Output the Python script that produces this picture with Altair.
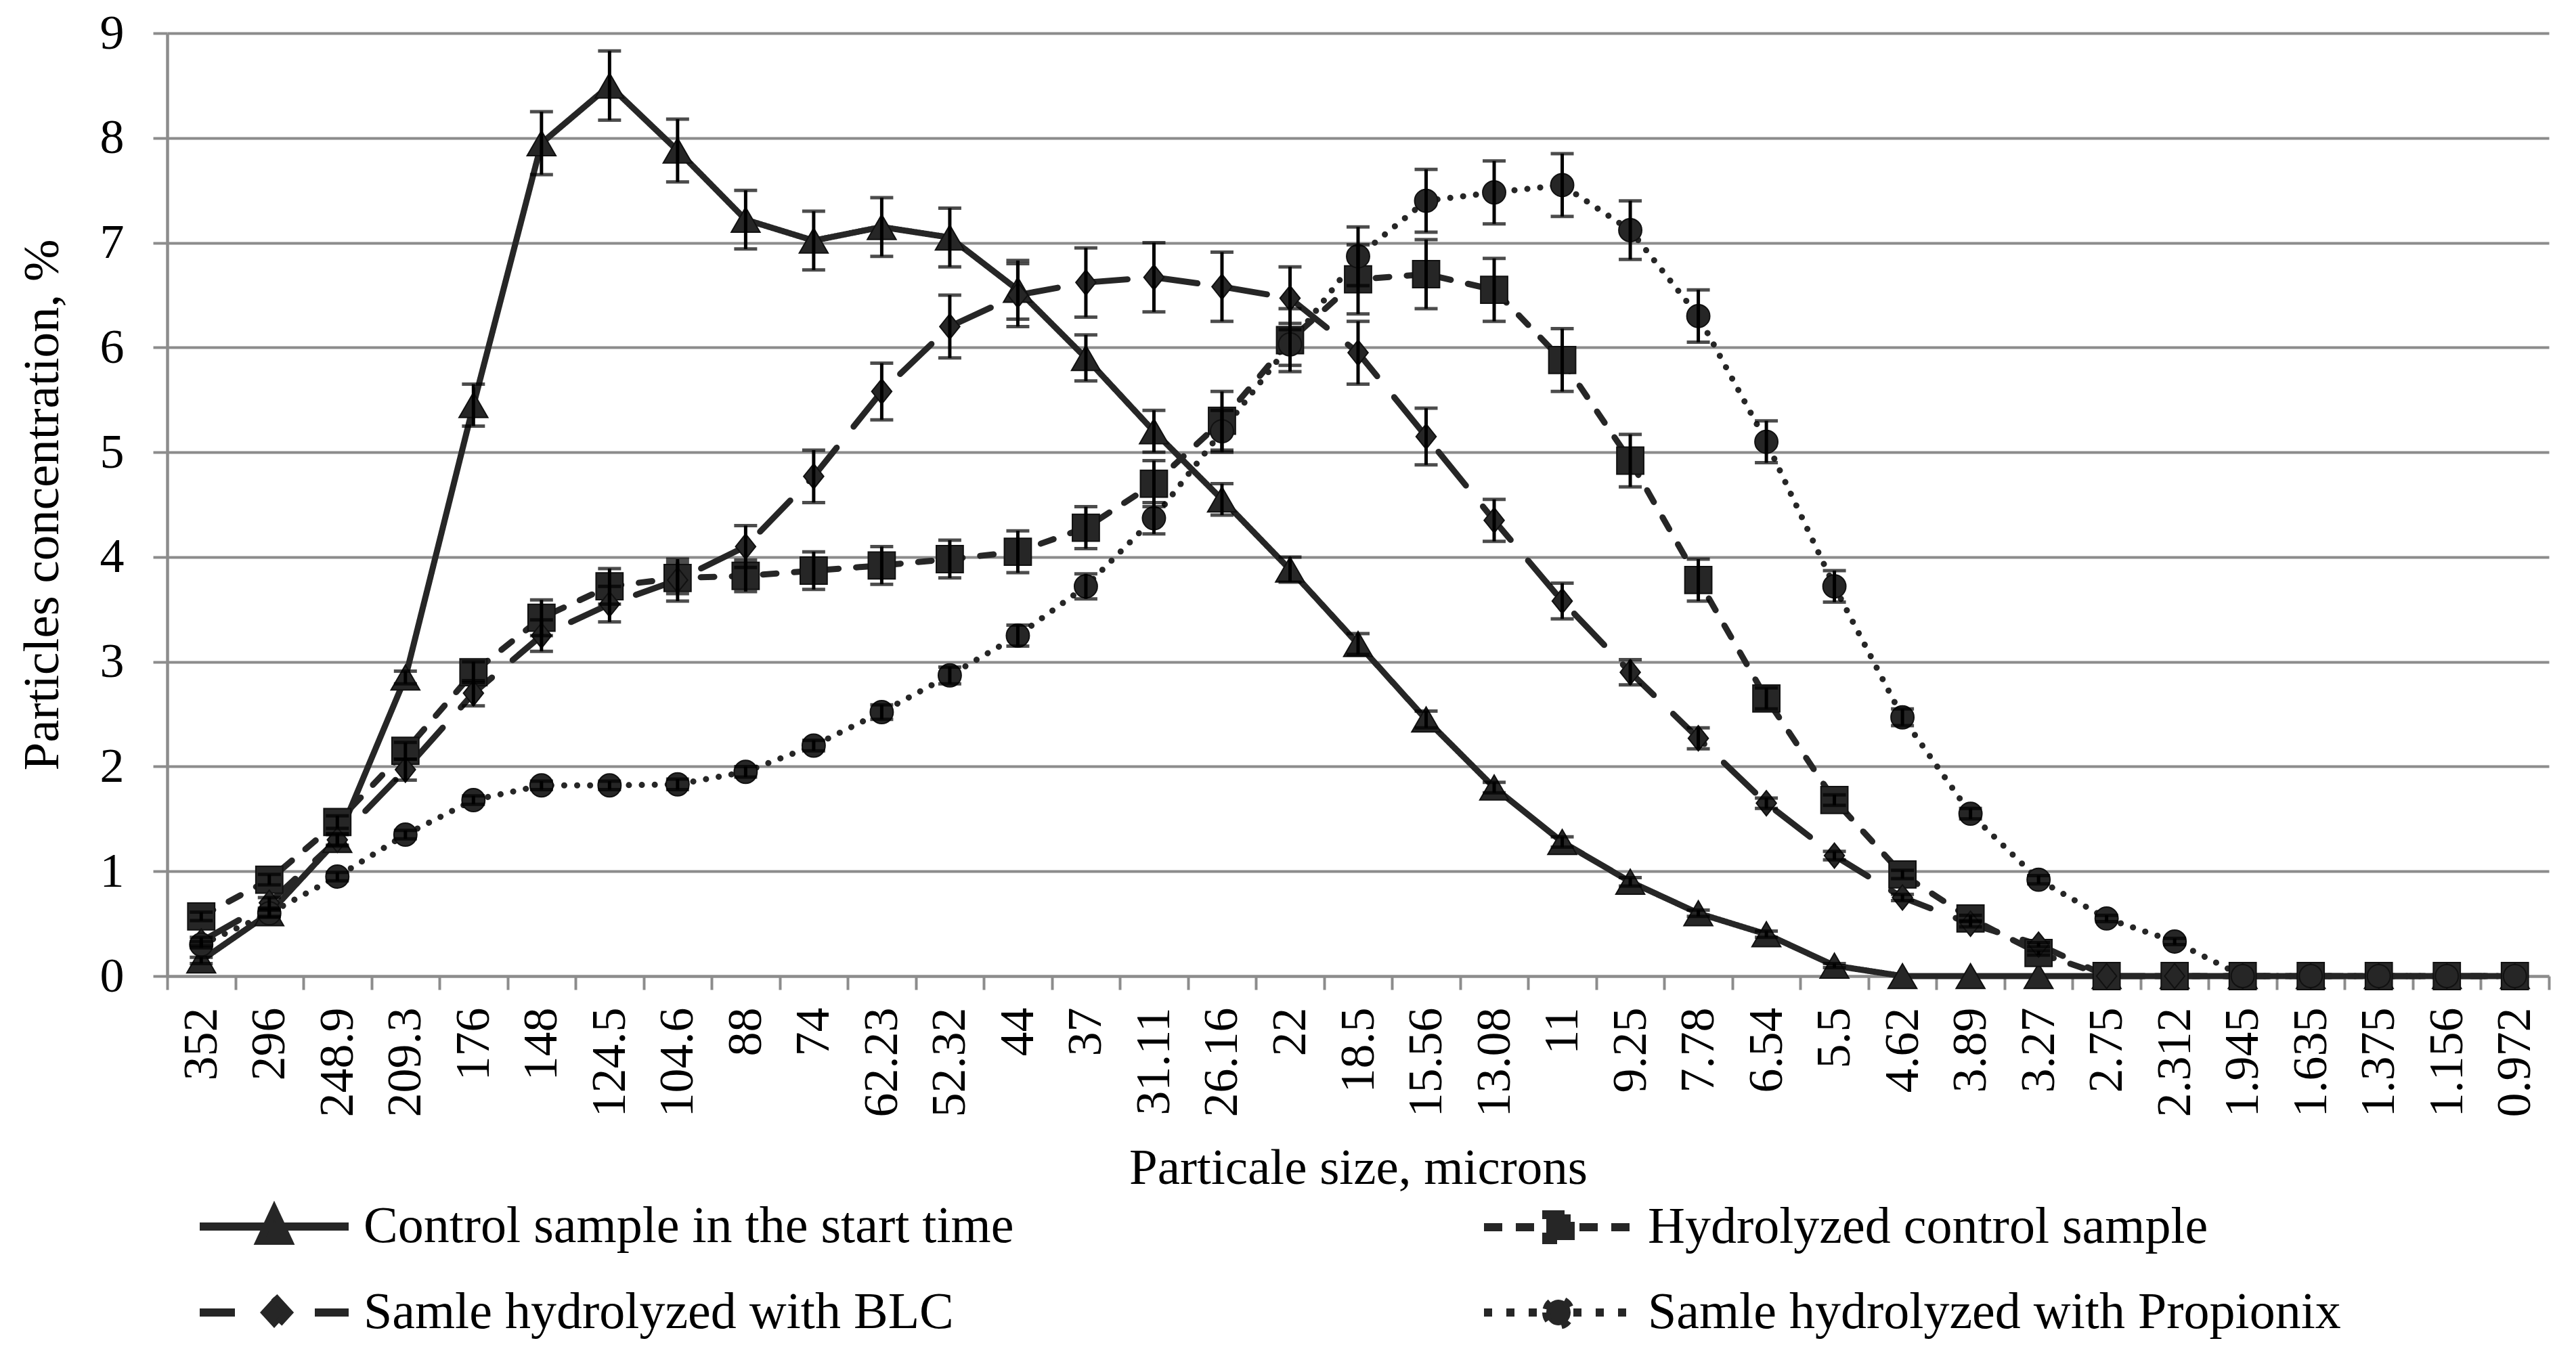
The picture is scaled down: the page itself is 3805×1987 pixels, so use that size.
import altair as alt
import pandas as pd

# ---------------- data ----------------
sizes = ["352", "296", "248.9", "209.3", "176", "148", "124.5", "104.6", "88", "74",
         "62.23", "52.32", "44", "37", "31.11", "26.16", "22", "18.5", "15.56", "13.08",
         "11", "9.25", "7.78", "6.54", "5.5", "4.62", "3.89", "3.27", "2.75", "2.312",
         "1.945", "1.635", "1.375", "1.156", "0.972"]

series_names = ["Control sample in the start time",
                "Hydrolyzed control sample",
                "Samle hydrolyzed with BLC",
                "Samle hydrolyzed with Propionix"]

control = [0.15, 0.6, 1.3, 2.85, 5.45, 7.95, 8.5, 7.88, 7.22, 7.02,
           7.15, 7.05, 6.55, 5.9, 5.2, 4.55, 3.88, 3.17, 2.45, 1.8,
           1.28, 0.9, 0.6, 0.4, 0.1, 0, 0, 0, 0, 0,
           0, 0, 0, 0, 0]
control_err = [0.03, 0.04, 0.05, 0.06, 0.2, 0.3, 0.33, 0.3, 0.28, 0.28,
               0.28, 0.28, 0.28, 0.22, 0.2, 0.15, 0.12, 0.1, 0.08, 0.05,
               0.05, 0.04, 0.03, 0.03, 0.02, 0, 0, 0, 0, 0,
               0, 0, 0, 0, 0]

hydrolyzed = [0.57, 0.92, 1.47, 2.15, 2.9, 3.42, 3.72, 3.8, 3.82, 3.87,
              3.92, 3.98, 4.05, 4.28, 4.7, 5.3, 6.07, 6.65, 6.7, 6.55,
              5.88, 4.92, 3.78, 2.65, 1.68, 0.97, 0.55, 0.22, 0, 0,
              0, 0, 0, 0, 0]
hydrolyzed_err = [0.04, 0.05, 0.06, 0.08, 0.1, 0.17, 0.17, 0.15, 0.15, 0.18,
                  0.18, 0.18, 0.2, 0.2, 0.22, 0.28, 0.3, 0.33, 0.33, 0.3,
                  0.3, 0.25, 0.2, 0.1, 0.05, 0.04, 0.03, 0.02, 0, 0,
                  0, 0, 0, 0, 0]

blc = [0.33, 0.7, 1.3, 1.97, 2.7, 3.25, 3.55, 3.78, 4.1, 4.77,
       5.58, 6.2, 6.5, 6.62, 6.67, 6.58, 6.47, 5.95, 5.15, 4.35,
       3.58, 2.9, 2.27, 1.65, 1.15, 0.75, 0.5, 0.3, 0, 0,
       0, 0, 0, 0, 0]
blc_err = [0.04, 0.05, 0.06, 0.1, 0.12, 0.15, 0.17, 0.2, 0.2, 0.25,
           0.27, 0.3, 0.3, 0.33, 0.33, 0.33, 0.3, 0.3, 0.27, 0.2,
           0.17, 0.12, 0.1, 0.05, 0.04, 0.03, 0.03, 0.02, 0, 0,
           0, 0, 0, 0, 0]

propionix = [0.3, 0.6, 0.95, 1.35, 1.68, 1.82, 1.82, 1.83, 1.95, 2.2,
             2.52, 2.87, 3.25, 3.72, 4.37, 5.2, 6.03, 6.87, 7.4, 7.48,
             7.55, 7.12, 6.3, 5.1, 3.72, 2.47, 1.55, 0.92, 0.55, 0.33,
             0, 0, 0, 0, 0]
propionix_err = [0.03, 0.03, 0.04, 0.04, 0.04, 0.04, 0.04, 0.05, 0.05, 0.05,
                 0.07, 0.08, 0.1, 0.12, 0.15, 0.2, 0.2, 0.28, 0.3, 0.3,
                 0.3, 0.28, 0.25, 0.2, 0.15, 0.08, 0.05, 0.04, 0.03, 0.03,
                 0, 0, 0, 0, 0]

rows = []
for name, vals, errs in zip(series_names,
                            [control, hydrolyzed, blc, propionix],
                            [control_err, hydrolyzed_err, blc_err, propionix_err]):
    for i, (s, v, e) in enumerate(zip(sizes, vals, errs)):
        rows.append({"size": s, "value": v, "err": e,
                     "lo": v - e, "hi": v + e, "series": name, "idx": i})
df = pd.DataFrame(rows)

# ---------------- style ----------------
FONT = "Liberation Serif"
DARK = "#262626"
GRAY = "#8c8c8c"
W, H = 3518, 1393

DIAMOND = "M0,-1L0.8,0L0,1L-0.8,0Z"
LEG_PATHS = [
    "M-1,0L10,0M4.5,-1.2L5.55,1.05L3.45,1.05Z",
    "M-1,0L10,0M3.6,-0.95L5.4,-0.95L5.4,0.95L3.6,0.95Z",
    "M-1,0L10,0M4.5,-1.15L5.55,0L4.5,1.15L3.45,0Z",
    "M3.6,0A0.9,0.95 0 1,0 5.4,0A0.9,0.95 0 1,0 3.6,0ZM-1,0L10,0",
]

xscale = alt.Scale(type="band", domain=sizes, paddingInner=0, paddingOuter=0)
xaxis = alt.Axis(title="Particale size, microns", labelAngle=270, labelAlign="right",
                 labelBaseline="middle", labelFont=FONT, labelFontSize=72,
                 labelColor="black", labelPadding=26, labelOverlap=False,
                 tickSize=20, tickWidth=4, tickColor=GRAY, tickBand="extent",
                 domainColor=GRAY, domainWidth=4, grid=False,
                 titleFont=FONT, titleFontSize=75, titleFontWeight="normal",
                 titleColor="black", titleY=306, titleBaseline="alphabetic")
yscale = alt.Scale(domain=[0, 9], nice=False)
yaxis = alt.Axis(title="Particles concentration, %", values=list(range(10)),
                 grid=True, gridColor=GRAY, gridWidth=4,
                 tickSize=21, tickWidth=4, tickColor=GRAY,
                 domainColor=GRAY, domainWidth=4.5,
                 labelFont=FONT, labelFontSize=72, labelColor="black", labelPadding=43,
                 titleFont=FONT, titleFontSize=75, titleFontWeight="normal",
                 titleColor="black", titleAngle=270, titleX=-162, titleY=H / 2,
                 titleBaseline="alphabetic", titleAlign="center")

X = alt.X("size:N", sort=sizes, scale=xscale, axis=xaxis)

base = alt.Chart(df)

lines = base.mark_line(strokeWidth=9, strokeCap="round", strokeJoin="round",
                       color=DARK).encode(
    x=X,
    y=alt.Y("value:Q", scale=yscale, axis=yaxis),
    strokeDash=alt.StrokeDash("series:N",
                              scale=alt.Scale(domain=series_names,
                                              range=[[1, 0], [20, 26], [64, 40], [0.1, 19]]),
                              legend=None),
    order=alt.Order("idx:Q"),
)

points = base.mark_point(filled=True, opacity=1, color=DARK, stroke="#111111",
                         strokeWidth=2).encode(
    x=X,
    y=alt.Y("value:Q", scale=yscale, axis=yaxis),
    shape=alt.Shape("series:N",
                    scale=alt.Scale(domain=series_names,
                                    range=["triangle-up", "square", DIAMOND, "circle"]),
                    legend=None),
    size=alt.Size("series:N",
                  scale=alt.Scale(domain=series_names, range=[1800, 1150, 1900, 1300]),
                  legend=None),
)

err_base = base.transform_filter("datum.err > 0")
err_rules = err_base.mark_rule(color="black", strokeWidth=5).encode(
    x=X,
    y=alt.Y("lo:Q", scale=yscale, axis=yaxis),
    y2="hi:Q",
)
cap_lo = err_base.mark_tick(color="black", thickness=5, size=34, orient="horizontal").encode(
    x=X, y=alt.Y("lo:Q", scale=yscale, axis=yaxis))
cap_hi = err_base.mark_tick(color="black", thickness=5, size=34, orient="horizontal").encode(
    x=X, y=alt.Y("hi:Q", scale=yscale, axis=yaxis))

leg = alt.Legend(title=None, orient="none", legendX=30, legendY=1725,
                 direction="horizontal", columns=2, columnPadding=670, rowPadding=35,
                 padding=0, labelFont=FONT, labelFontSize=76, labelColor="black",
                 labelLimit=3000, labelOffset=184, symbolSize=1600,
                 symbolStrokeWidth=12, symbolOpacity=1)

legend_layer = base.transform_filter("false").mark_point(
    filled=True, fill=DARK, stroke=DARK, strokeWidth=12, opacity=1
).encode(
    shape=alt.Shape("series:N", scale=alt.Scale(domain=series_names, range=LEG_PATHS),
                    legend=leg),
    strokeDash=alt.StrokeDash("series:N",
                              scale=alt.Scale(domain=series_names,
                                              range=[[1, 0], [27, 20], [52, 118], [12, 21]]),
                              legend=leg),
)

chart = alt.layer(lines, points, err_rules, cap_lo, cap_hi, legend_layer).resolve_scale(
    shape="independent", strokeDash="independent"
).properties(
    width=W, height=H,
    padding={"left": 239, "top": 41, "right": 32, "bottom": 537},
    autosize=alt.AutoSizeParams(type="none"),
    background="white",
).configure_view(strokeWidth=0)

chart.save("out.html", embed_options={"renderer": "svg", "actions": False})
